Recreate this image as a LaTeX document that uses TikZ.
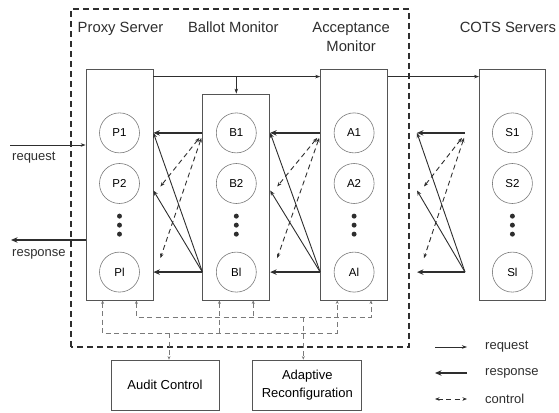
\documentclass[tikz,border=0pt]{standalone}
\usepackage{fontspec}
\setmainfont{Liberation Sans}
\usetikzlibrary{arrows.meta,positioning,calc}
\definecolor{ink}{HTML}{2E2E2E}
\definecolor{edge}{HTML}{555555}
\definecolor{soft}{HTML}{7A7A7A}
\tikzset{
  tier/.style={
    rectangle,draw=edge,line width=0.8pt,
    minimum width=67pt,inner sep=0pt
  },
  replica/.style={circle,draw=soft,line width=0.6pt,minimum size=40pt,inner sep=0pt,font=\fontsize{11.5}{13}\selectfont},
  lbl/.style={inner sep=0pt,align=center,font=\fontsize{13}{19}\selectfont,text=ink},
  tierlbl/.style={lbl,font=\fontsize{14.8}{19}\selectfont},
  ctrlbox/.style={rectangle,draw=edge,line width=0.8pt,minimum height=50pt,inner sep=0pt,align=center,font=\fontsize{13}{18}\selectfont},
  req/.style={-{Stealth[length=5pt,width=3.5pt]},line width=0.6pt,draw=ink},
  resp/.style={-{Stealth[length=6.5pt,width=5.5pt]},line width=1.8pt,draw=ink},
  back/.style={-{Stealth[length=5pt,width=4pt]},line width=0.9pt,draw=ink},
  ctl/.style={{Stealth[length=4.5pt,width=3.5pt]}-{Stealth[length=4.5pt,width=3.5pt]},dash pattern=on 5pt off 3.5pt,line width=0.9pt,draw=ink},
  bus/.style={>={Stealth[length=3.5pt,width=3pt]},dash pattern=on 5pt off 3.5pt,line width=0.7pt,draw=soft},
  frame/.style={dash pattern=on 6pt off 4pt,line width=1.3pt,draw=ink}
}
\begin{document}
\begin{tikzpicture}[x=1pt,y=1pt]
  \useasboundingbox (0,0) rectangle (559,412);
  \draw[frame] (71,65) rectangle (409,403);
  % tiers
  \node[tier,minimum height=231pt] (proxy) at (119.5,227.5) {};
  \node[tier,minimum height=206pt,right=49pt of proxy.south east,anchor=south west] (ballot) {};
  \node[tier,minimum height=231pt,right=50pt of ballot.south east,anchor=south west] (accept) {};
  \node[tier,minimum width=66pt,minimum height=231pt,right=91pt of accept.east] (cots) {};
  \node[tierlbl,anchor=base] (proxylbl) at ([shift={(1pt,36pt)}]proxy.north) {Proxy Server};
  \node[tierlbl,anchor=base] (ballotlbl) at ([shift={(-3pt,61pt)}]ballot.north) {Ballot Monitor};
  \node[tierlbl,anchor=north] (acceptlbl) at ([shift={(-3pt,46.5pt)}]accept.north) {Acceptance\\Monitor};
  \node[tierlbl,anchor=base] (cotslbl) at ([shift={(-4.5pt,36pt)}]cots.north) {COTS Servers};
  % replicas
  \node[replica,below=44pt of proxy.north] (p1) {P1};
  \node[replica,below=10pt of p1] (p2) {P2};
  \node[replica,below=48pt of p2] (pn) {Pl};
  \coordinate (pdots) at ($(p2)!0.47!(pn)$);
  \foreach \t/\c/\pre in {ballot/B/b,accept/A/a,cots/S/s}{
    \node[replica] (\pre1) at (\t.center |- p1) {\c1};
    \node[replica] (\pre2) at (\t.center |- p2) {\c2};
    \node[replica] (\pre n) at (\t.center |- pn) {\c l};
  }
  \foreach \t in {proxy,ballot,accept,cots}
    \foreach \d in {-9,0,9}
      \fill[ink] ([yshift=\d pt]\t.center |- pdots) circle (2.5pt);
  % request path
  \coordinate (fwd) at ([yshift=-8pt]proxy.north east);
  \draw[req] (fwd) -- (fwd -| accept.west);
  \draw[req] (fwd -| ballot.north) -- (ballot.north);
  \draw[req] (fwd -| accept.east) -- (fwd -| cots.west);
  \coordinate (reqin) at (10,267);
  \draw[req] (reqin) -- (reqin -| proxy.west);
  \node[lbl,anchor=base west] (reqlbl) at ([shift={(2pt,-16pt)}]reqin) {request};
  \coordinate (respout) at (11,172);
  \draw[resp] (respout -| proxy.west) -- (respout);
  \node[lbl,anchor=base west] (resplbl) at ([shift={(1pt,-17pt)}]respout) {response};
  % gaps between tiers
  \coordinate (g1l) at (proxy.east);
  \coordinate (g1r) at (ballot.west);
  \coordinate (g2l) at (ballot.east);
  \coordinate (g2r) at (accept.west);
  \coordinate (g3l) at ([xshift=-62pt]cots.west);
  \coordinate (g3r) at ([xshift=-14pt]cots.west);
  \foreach \lft/\rgt in {g1l/g1r,g2l/g2r,g3l/g3r}{
    \draw[resp] (\rgt |- p1) -- (\lft |- p1);
    \draw[resp] (\rgt |- pn) -- (\lft |- pn);
    \draw[back] (\rgt |- pn) -- (\lft |- p1);
    \draw[back] (\rgt |- pn) -- ([yshift=-7pt]\lft |- p2);
    \draw[ctl] ([shift={(-3pt,-5pt)}]\rgt |- p1) -- ([shift={(7pt,-3pt)}]\lft |- p2);
    \draw[ctl] ([shift={(-1pt,-5pt)}]\rgt |- p1) -- ([shift={(7pt,14pt)}]\lft |- pn);
  }
  % control bus
  \foreach \t in {proxy,ballot,accept}{
    \coordinate (\t tl) at ([xshift=17pt]\t.south west);
    \coordinate (\t tr) at ([xshift=-17pt]\t.south east);
  }
  \coordinate (hibus) at ([yshift=-17pt]proxy.south);
  \coordinate (lobus) at ([yshift=-33pt]proxy.south);
  \draw[bus,<->] (proxytr) |- (hibus -| accepttr) -- (accepttr);
  \draw[bus,<-] (ballottr) -- (ballottr |- hibus);
  \draw[bus,<->] (proxytl) |- (lobus -| accepttl) -- (accepttl);
  \draw[bus,<-] (ballottl) -- (ballottl |- lobus);
  \node[ctrlbox,minimum width=108pt] (audit) at (165,27) {Audit Control};
  \node[ctrlbox,minimum width=109pt,right=33pt of audit] (adapt) {Adaptive\\Reconfiguration};
  \draw[bus,->] ([xshift=4pt]audit.north |- lobus) -- ([xshift=4pt]audit.north);
  \draw[bus,->] ([xshift=-4pt]adapt.north |- hibus) -- ([xshift=-4pt]adapt.north);
  % legend
  \node[lbl,anchor=west] (lreq) at (485,65) {request};
  \node[lbl,anchor=west] (lresp) at (485,39) {response};
  \node[lbl,anchor=west] (lctl) at (485,13) {control};
  \draw[req] ([xshift=-50pt]lreq.west) -- ([xshift=-18pt]lreq.west);
  \draw[resp] ([xshift=-18pt]lresp.west) -- ([xshift=-50pt]lresp.west);
  \draw[ctl] ([xshift=-50pt]lctl.west) -- ([xshift=-18pt]lctl.west);
\end{tikzpicture}
\end{document}
